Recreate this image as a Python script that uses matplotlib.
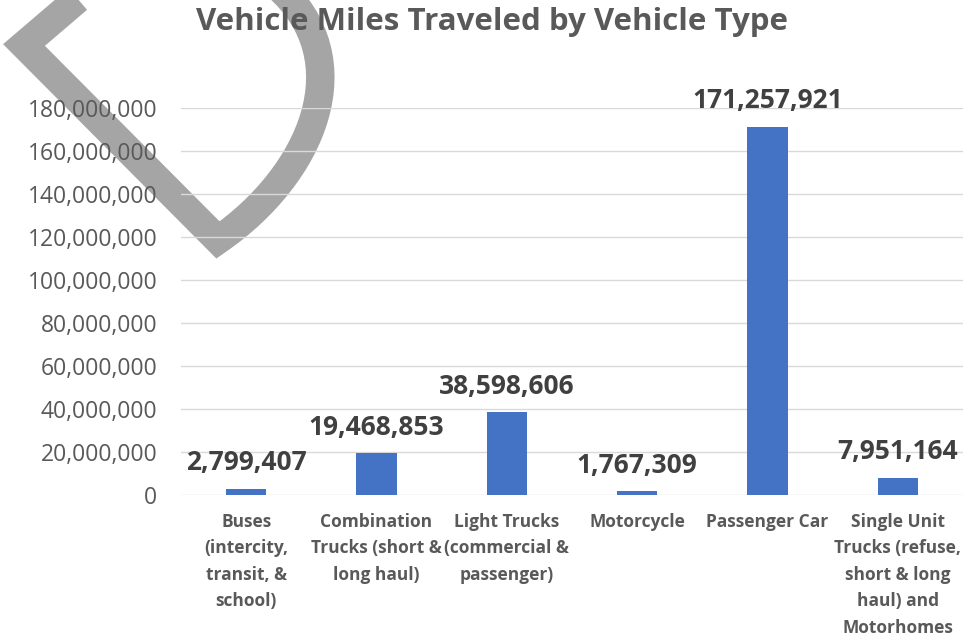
import matplotlib.pyplot as plt
from matplotlib.path import Path
from matplotlib.patches import PathPatch
from matplotlib.ticker import FuncFormatter

# Данi
categories = [
    "Buses\n(intercity,\ntransit, &\nschool)",
    "Combination\nTrucks (short &\nlong haul)",
    "Light Trucks\n(commercial &\npassenger)",
    "Motorcycle",
    "Passenger Car",
    "Single Unit\nTrucks (refuse,\nshort & long\nhaul) and\nMotorhomes",
]
miles = [2799407, 19468853, 38598606, 1767309, 171257921, 7951164]
y_ticks = list(range(0, 180000001, 20000000))

plt.rcParams['font.family'] = ['Open Sans', 'DejaVu Sans']

fig = plt.figure(figsize=(9.63, 6.35), dpi=100, facecolor='white')
ax = fig.add_axes([0.188, 0.2205, 0.812, 0.6094])
ax.set_facecolor('none')

x = range(len(categories))
bars = ax.bar(x, miles, width=0.31, color='#4472C4', zorder=2)

ax.set_ylim(0, 180000000)
ax.set_xlim(-0.5, len(categories) - 0.5)
ax.set_yticks(y_ticks)
ax.yaxis.set_major_formatter(FuncFormatter(lambda v, p: f"{int(v):,}"))
ax.grid(axis='y', color='#d9d9d9', linewidth=1, zorder=0)
for s in ax.spines.values():
    s.set_visible(False)
ax.tick_params(axis='both', length=0)
ax.tick_params(axis='y', labelsize=16.5, labelcolor='#595959', pad=17)
ax.set_xticks(list(x))
ax.set_xticklabels(categories, fontsize=12.5, fontweight='bold', color='#595959',
                   linespacing=1.6, va='top')
ax.tick_params(axis='x', pad=13)

# Підписи значень
for b, v in zip(bars, miles):
    ax.annotate(f"{v:,}", (b.get_x() + b.get_width() / 2, v),
                xytext=(0, 9), textcoords='offset points', ha='center', va='bottom',
                fontsize=19, fontweight='bold', color='#404040', annotation_clip=False)

fig.text(0.511, 0.966, "Vehicle Miles Traveled by Vehicle Type", ha='center', va='center',
         fontsize=22.5, fontweight='bold', color='#595959')

# Сіра фігура зверху зліва (у пікселях)
W, H = 963, 635
def px(p):
    return (p[0] / W, 1 - p[1] / H)

verts = [px(p) for p in [(100, -20), (24, 45), (218, 240), (312, 175), (362, 60), (276, -15)]]
codes = [Path.MOVETO, Path.LINETO, Path.LINETO, Path.CURVE4, Path.CURVE4, Path.CURVE4]
shape = PathPatch(Path(verts, codes), transform=fig.transFigure, fill=False,
                  edgecolor='#7f7f7f', alpha=0.7, linewidth=20.5, joinstyle='miter',
                  capstyle='butt', zorder=-1)
fig.patches.append(shape)

fig.savefig('out.png', dpi=100)
